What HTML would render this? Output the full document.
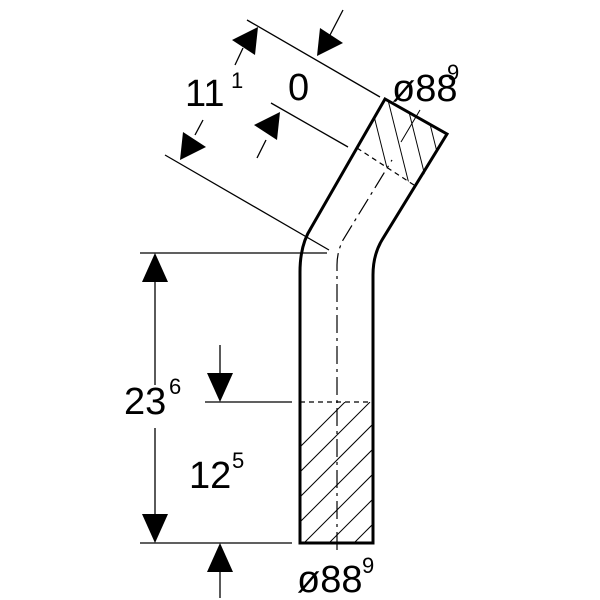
<!DOCTYPE html>
<html><head><style>body{margin:0;background:#fff}svg{display:block}</style></head><body>
<svg width="600" height="600" viewBox="0 0 600 600" xmlns="http://www.w3.org/2000/svg" font-family="Liberation Sans, sans-serif">
<g fill="none" stroke="#000">
<path d="M300,543 L300,272 Q300,245 311,228 L385,99 L447,134 L382,240 Q373,255 373,275 L373,543 Z" stroke-width="3"/>
<clipPath id="cb"><rect x="300" y="402" width="73" height="141"/></clipPath>
<g clip-path="url(#cb)" stroke-width="1">
<line x1="300" y1="447" x2="345" y2="402"/><line x1="300" y1="472" x2="370" y2="402"/>
<line x1="300" y1="497" x2="395" y2="402"/><line x1="300" y1="522" x2="395" y2="427"/>
<line x1="300" y1="547" x2="395" y2="452"/><line x1="320" y1="552" x2="395" y2="477"/>
<line x1="345" y1="552" x2="395" y2="502"/>
</g>
<line x1="300" y1="402" x2="373" y2="402" stroke-dasharray="5,4" stroke-width="1.2"/>
<clipPath id="ct"><polygon points="385,99 447,134 417,187 357,148"/></clipPath>
<g clip-path="url(#ct)" stroke-width="1">
<line x1="365" y1="80" x2="395" y2="200"/><line x1="383" y1="80" x2="413" y2="200"/>
<line x1="401" y1="80" x2="431" y2="200"/><line x1="419" y1="80" x2="449" y2="200"/>
<line x1="437" y1="80" x2="467" y2="200"/>
</g>
<line x1="357" y1="148" x2="417" y2="187" stroke-dasharray="5,4" stroke-width="1.2"/>
<line x1="420" y1="110" x2="401" y2="142" stroke-width="1"/>
<path d="M337,550 L337,265 Q337,252 343,240 L392,160" stroke-width="1.2" stroke-dasharray="18,5,3,5"/>
<line x1="247" y1="20" x2="380" y2="97" stroke-width="1.3"/>
<line x1="271" y1="103" x2="348" y2="147" stroke-width="1.3"/>
<line x1="165" y1="155" x2="329" y2="250" stroke-width="1.3"/>
<line x1="140" y1="253" x2="327" y2="253" stroke-width="1.3"/>
<line x1="140" y1="543" x2="292" y2="543" stroke-width="1.3"/>
<line x1="205" y1="402" x2="292" y2="402" stroke-width="1.3"/>
<line x1="155" y1="262" x2="155" y2="385" stroke-width="1.3"/>
<line x1="155" y1="428" x2="155" y2="535" stroke-width="1.3"/>
<line x1="220" y1="345" x2="220" y2="380" stroke-width="1.3"/>
<line x1="220" y1="565" x2="220" y2="598" stroke-width="1.3"/>
<line x1="343" y1="10" x2="330" y2="35" stroke-width="1.3"/>
<line x1="235" y1="65" x2="243" y2="48" stroke-width="1.3"/>
<line x1="203" y1="120" x2="195" y2="135" stroke-width="1.3"/>
<line x1="257" y1="158" x2="266" y2="140" stroke-width="1.3"/>
</g>
<g fill="#000">
<polygon points="155,253 142,282 168,282"/>
<polygon points="155,543 142,514 168,514"/>
<polygon points="220,402 207,373 233,373"/>
<polygon points="220,543 207,572 233,572"/>
<polygon points="258,27 232,40 255,55"/>
<polygon points="317,56 343,43 320,28"/>
<polygon points="180,160 206,147 183,132"/>
<polygon points="280,112 254,125 277,140"/>
</g>
<g font-size="38">
<text x="185" y="106">11</text><text x="231" y="88" font-size="22">1</text>
<text x="288" y="100">0</text>
<text x="392" y="101">ø88</text><text x="447" y="80" font-size="22">9</text>
<text x="124" y="414">23</text><text x="169" y="394" font-size="22">6</text>
<text x="189" y="488">12</text><text x="232" y="468" font-size="22">5</text>
<text x="297" y="592">ø88</text><text x="362" y="573" font-size="22">9</text>
</g>
</svg>
</body></html>
